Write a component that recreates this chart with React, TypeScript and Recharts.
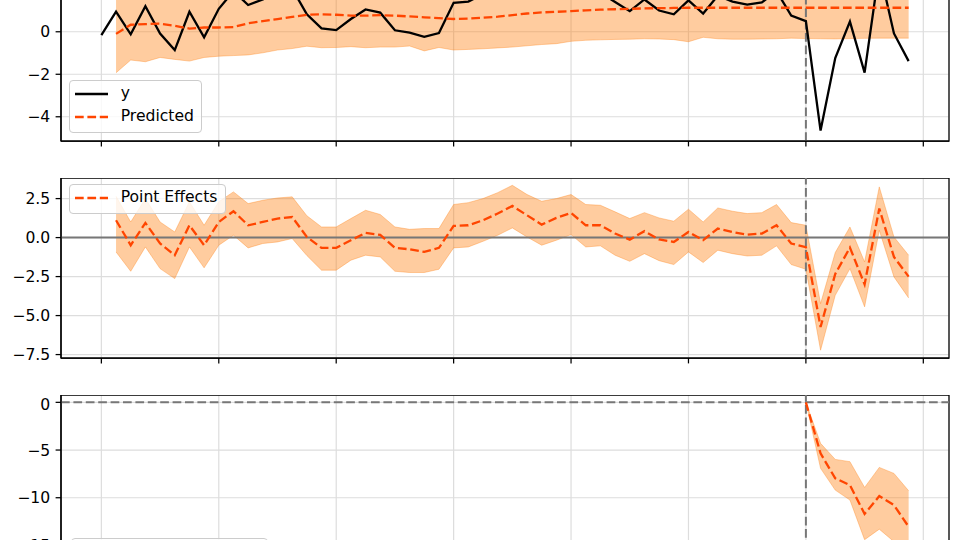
import React from 'react'
import { Area, CartesianGrid, ComposedChart, Legend, Line, ReferenceArea, ReferenceLine, XAxis, YAxis } from 'recharts'

// time index of the series (intervention starts at 48)
const timeIndex = [
  0, 1, 2, 3, 4, 5, 6, 7, 8, 9, 10, 11, 12, 13, 14, 15, 16, 17, 18, 19, 20, 21, 22, 23, 24, 25, 26, 27,
  28, 29, 30, 31, 32, 33, 34, 35, 36, 37, 38, 39, 40, 41, 42, 43, 44, 45, 46, 47, 48, 49, 50, 51, 52, 53, 54, 55
]
const xTicks = [0, 8, 16, 24, 32, 40, 48, 56]
const interventionAt = 48

const observed = [
  -0.16, 0.95, -0.12, 1.2, -0.08, -0.86, 0.94, -0.26, 1.08, 1.91, 1.26, 1.52, 1.85, 2.03, 0.82, 0.16, 0.08, 0.6,
  1.05, 0.9, 0.07, -0.04, -0.24, -0.06, 1.36, 1.42, 1.77, 2.25, 2.82, 2.3, 1.74, 2.2, 2.55, 1.81, 1.84, 1.4, 0.97,
  1.52, 1.0, 0.82, 1.48, 0.86, 1.7, 1.42, 1.28, 1.38, 1.91, 0.76, 0.5, -4.65, -1.24, 0.48, -1.92, 2.95, -0.08, -1.38
]
const predicted = [
  null, -0.1, 0.33, 0.36, 0.38, 0.28, 0.15, 0.2, 0.2, 0.22, 0.4, 0.5, 0.6, 0.7, 0.8, 0.82, 0.8, 0.76, 0.76, 0.78,
  0.76, 0.72, 0.68, 0.64, 0.6, 0.62, 0.66, 0.71, 0.78, 0.86, 0.91, 0.94, 0.97, 1.01, 1.04, 1.06, 1.08, 1.1, 1.11,
  1.12, 1.13, 1.13, 1.13, 1.13, 1.13, 1.13, 1.13, 1.13, 1.13, 1.13, 1.13, 1.13, 1.13, 1.13, 1.13, 1.13
]
const predLower = [
  null, -1.93, -1.33, -1.41, -1.21, -1.3, -1.38, -1.21, -1.15, -1.12, -1.09, -0.99, -0.86, -0.79, -0.68, -0.75,
  -0.74, -0.7, -0.75, -0.72, -0.72, -0.67, -0.9, -0.74, -0.86, -0.83, -0.8, -0.76, -0.72, -0.66, -0.6, -0.56,
  -0.45, -0.4, -0.38, -0.36, -0.35, -0.33, -0.34, -0.37, -0.47, -0.26, -0.33, -0.35, -0.35, -0.34, -0.33, -0.3,
  -0.32, -0.33, -0.34, -0.32, -0.31, -0.3, -0.3, -0.3
]
const predUpper = [
  null, 1.87, 2.04, 1.8, 1.91, 1.77, 1.54, 1.68, 1.57, 1.76, 1.92, 1.9, 2.13, 2.09, 1.97, 2.25, 2.17, 2.05, 2.18,
  2.14, 2.23, 2.2, 2.0, 1.97, 2.02, 2.02, 2.01, 2.1, 2.2, 2.26, 2.23, 2.37, 2.36, 2.41, 2.37, 2.53, 2.49, 2.55,
  2.48, 2.55, 2.4, 2.46, 2.51, 2.45, 2.46, 2.51, 2.44, 2.49, 2.53, 2.57, 2.46, 2.47, 2.52, 2.48, 2.44, 2.49
]

const pointEffect = [
  null, 1.11, -0.49, 0.94, -0.38, -1.13, 0.79, -0.49, 1.0, 1.69, 0.79, 1.0, 1.22, 1.32, 0.04, -0.66, -0.66, -0.17,
  0.3, 0.17, -0.66, -0.75, -0.92, -0.66, 0.75, 0.79, 1.11, 1.54, 2.03, 1.43, 0.83, 1.26, 1.58, 0.79, 0.79, 0.26,
  -0.13, 0.41, -0.12, -0.28, 0.36, -0.17, 0.58, 0.36, 0.19, 0.26, 0.79, -0.38, -0.62, -5.73, -2.33, -0.64, -3.0,
  1.86, -1.24, -2.5
]
const effectLower = [
  null, -0.92, -2.16, -0.6, -1.99, -2.63, -0.6, -1.94, -0.49, 0.15, -0.66, -0.38, -0.28, -0.06, -1.15, -2.09,
  -2.09, -1.45, -1.13, -1.24, -2.16, -2.24, -2.24, -2.03, -0.66, -0.6, -0.24, 0.15, 0.62, 0.04, -0.49, -0.17, 0.19,
  -0.6, -0.53, -1.13, -1.52, -1.03, -1.48, -1.73, -0.92, -1.6, -0.81, -1.03, -1.18, -1.13, -0.53, -1.73, -2.03,
  -7.22, -3.7, -1.99, -4.44, 0.47, -2.52, -3.87
]
const effectUpper = [
  null, 2.65, 1.0, 2.5, 1.0, 0.36, 2.3, 0.79, 2.3, 2.93, 2.18, 2.39, 2.54, 2.61, 1.4, 0.68, 0.68, 1.22, 1.75, 1.48,
  0.68, 0.53, 0.58, 0.58, 2.12, 2.24, 2.5, 2.88, 3.35, 2.76, 2.33, 2.5, 2.76, 2.12, 2.07, 1.65, 1.22, 1.6, 1.26,
  1.05, 1.82, 1.0, 1.9, 1.69, 1.54, 1.6, 2.12, 0.96, 0.79, -4.23, -0.96, 0.68, -1.56, 3.25, 0.04, -1.13
]

const cumIndex = [48, 49, 50, 51, 52, 53, 54, 55]
const cumEffect = [0, -5.35, -7.97, -8.67, -11.7, -9.83, -10.77, -13.04]
const cumLower = [0, -6.92, -9.2, -10.24, -14.4, -13.3, -14.6, -17.2]
const cumUpper = [0, -4.3, -5.98, -6.22, -8.92, -6.82, -7.45, -9.27]

const mainRows = timeIndex.map((t, i) => ({
  t,
  y: observed[i],
  pred: predicted[i],
  band: predLower[i] == null ? null : [predLower[i], predUpper[i]],
  eff: pointEffect[i],
  effBand: effectLower[i] == null ? null : [effectLower[i], effectUpper[i]]
}))

const cumRows = cumIndex.map((t, i) => ({
  t,
  cum: cumEffect[i],
  cumBand: [cumLower[i], cumUpper[i]]
}))

const FONT = '"DejaVu Sans", sans-serif'
const BLACK = '#000000'
const GRID = '#dddddd'
const BAND = '#ff7f0e'
const PRED = '#ff4500'
const GUIDE = '#777777'
const DASH = '8.7 3.7'
const X_DOMAIN: [number, number] = [-2.75, 57.75]

const minus = (v: number, digits?: number) => {
  const s = digits == null ? String(Math.abs(v)) : Math.abs(v).toFixed(digits)
  return v < 0 ? '\u2212' + s : s
}

type LegendItem = { label: string; color: string; dashed?: boolean }

function LegendBox({ items, width }: { items: LegendItem[]; width: number }) {
  return (
    <div
      style={{
        boxSizing: 'border-box',
        width,
        border: '1px solid #cccccc',
        borderRadius: 4,
        background: 'rgba(255,255,255,0.8)',
        padding: '1px 6px 3px 5px',
        fontFamily: FONT,
        fontSize: 15.6,
        lineHeight: '23.4px',
        color: '#000',
        whiteSpace: 'nowrap'
      }}
    >
      {items.map((it) => (
        <div key={it.label} style={{ display: 'flex', alignItems: 'center', height: 23.4 }}>
          <svg width={33} height={10} style={{ marginRight: 12.7, flex: 'none' }}>
            <line x1={0} y1={5} x2={33} y2={5} stroke={it.color} strokeWidth={2.3} strokeDasharray={it.dashed ? DASH : undefined} />
          </svg>
          <span>{it.label}</span>
        </div>
      ))}
    </div>
  )
}

const tickStyle = { fill: '#000', fontSize: 15.6, fontFamily: FONT }

export default function App() {
  const p1: [number, number] = [-5.14, 3.33]
  const p2: [number, number] = [-7.72, 3.82]
  const p3: [number, number] = [-18.1, 0.77]

  return (
    <div style={{ position: 'fixed', left: 0, top: 0, width: 960, height: 540, overflow: 'hidden', background: '#fff' }}>
      {/* top panel: observed vs predicted */}
      <div style={{ position: 'absolute', left: 0, top: -39.3 }}>
        <ComposedChart width={960} height={200} data={mainRows} margin={{ top: 0, right: 11, bottom: 0, left: 0 }}>
          <CartesianGrid stroke={GRID} strokeWidth={1.2} />
          <XAxis type='number' dataKey='t' domain={X_DOMAIN} ticks={xTicks} tickFormatter={() => ''} tickSize={5.4} height={20}
            axisLine={{ stroke: BLACK, strokeWidth: 1.25 }} tickLine={{ stroke: BLACK, strokeWidth: 1.25 }} allowDataOverflow />
          <YAxis type='number' domain={p1} ticks={[-4, -2, 0, 2]} tickFormatter={(v) => minus(v)} width={61} tickSize={5.4} tickMargin={5.4}
            tick={tickStyle} axisLine={{ stroke: BLACK, strokeWidth: 1.25 }} tickLine={{ stroke: BLACK, strokeWidth: 1.25 }} allowDataOverflow />
          <Area dataKey='band' type='linear' fill={BAND} fillOpacity={0.4} stroke={BAND} strokeOpacity={0.35} strokeWidth={1}
            isAnimationActive={false} dot={false} activeDot={false} />
          <ReferenceLine x={interventionAt} stroke={GUIDE} strokeWidth={2} strokeDasharray={DASH} />
          <Line dataKey='y' type='linear' stroke={BLACK} strokeWidth={2.3} dot={false} activeDot={false} isAnimationActive={false} />
          <Line dataKey='pred' type='linear' stroke={PRED} strokeWidth={2.3} strokeDasharray={DASH} dot={false} activeDot={false} isAnimationActive={false} />
          <ReferenceArea x1={X_DOMAIN[0]} x2={X_DOMAIN[1]} y1={p1[0]} y2={p1[1]} fill='none' stroke={BLACK} strokeWidth={1.25} ifOverflow='visible' />
          <Legend layout='vertical' align='center' verticalAlign='middle' wrapperStyle={{ left: 69, top: 119.3, width: 'auto', height: 'auto' }}
            content={() => <LegendBox width={133} items={[{ label: 'y', color: BLACK }, { label: 'Predicted', color: PRED, dashed: true }]} />} />
        </ComposedChart>
      </div>

      {/* middle panel: point effects */}
      <div style={{ position: 'absolute', left: 0, top: 177.7 }}>
        <ComposedChart width={960} height={200} data={mainRows} margin={{ top: 0, right: 11, bottom: 0, left: 0 }}>
          <CartesianGrid stroke={GRID} strokeWidth={1.2} />
          <XAxis type='number' dataKey='t' domain={X_DOMAIN} ticks={xTicks} tickFormatter={() => ''} tickSize={5.4} height={20}
            axisLine={{ stroke: BLACK, strokeWidth: 1.25 }} tickLine={{ stroke: BLACK, strokeWidth: 1.25 }} allowDataOverflow />
          <YAxis type='number' domain={p2} ticks={[-7.5, -5, -2.5, 0, 2.5]} tickFormatter={(v) => minus(v, 1)} width={61} tickSize={5.4} tickMargin={5.4}
            tick={tickStyle} axisLine={{ stroke: BLACK, strokeWidth: 1.25 }} tickLine={{ stroke: BLACK, strokeWidth: 1.25 }} allowDataOverflow />
          <Area dataKey='effBand' type='linear' fill={BAND} fillOpacity={0.4} stroke={BAND} strokeOpacity={0.35} strokeWidth={1}
            isAnimationActive={false} dot={false} activeDot={false} />
          <ReferenceLine y={0} stroke={GUIDE} strokeWidth={2} />
          <ReferenceLine x={interventionAt} stroke={GUIDE} strokeWidth={2} strokeDasharray={DASH} />
          <Line dataKey='eff' type='linear' stroke={PRED} strokeWidth={2.3} strokeDasharray={DASH} dot={false} activeDot={false} isAnimationActive={false} />
          <ReferenceArea x1={X_DOMAIN[0]} x2={X_DOMAIN[1]} y1={p2[0]} y2={p2[1]} fill='none' stroke={BLACK} strokeWidth={1.25} ifOverflow='visible' />
          <Legend layout='vertical' align='center' verticalAlign='middle' wrapperStyle={{ left: 69, top: 6.6, width: 'auto', height: 'auto' }}
            content={() => <LegendBox width={157} items={[{ label: 'Point Effects', color: PRED, dashed: true }]} />} />
        </ComposedChart>
      </div>

      {/* bottom panel: cumulative effect */}
      <div style={{ position: 'absolute', left: 0, top: 395 }}>
        <ComposedChart width={960} height={200} data={cumRows} margin={{ top: 0, right: 11, bottom: 0, left: 0 }}>
          <CartesianGrid stroke={GRID} strokeWidth={1.2} />
          <XAxis type='number' dataKey='t' domain={X_DOMAIN} ticks={xTicks} tickFormatter={() => ''} tickSize={5.4} height={20}
            axisLine={{ stroke: BLACK, strokeWidth: 1.25 }} tickLine={{ stroke: BLACK, strokeWidth: 1.25 }} allowDataOverflow />
          <YAxis type='number' domain={p3} ticks={[-15, -10, -5, 0]} tickFormatter={(v) => minus(v)} width={61} tickSize={5.4} tickMargin={5.4}
            tick={tickStyle} axisLine={{ stroke: BLACK, strokeWidth: 1.25 }} tickLine={{ stroke: BLACK, strokeWidth: 1.25 }} allowDataOverflow />
          <Area dataKey='cumBand' type='linear' fill={BAND} fillOpacity={0.4} stroke={BAND} strokeOpacity={0.35} strokeWidth={1}
            isAnimationActive={false} dot={false} activeDot={false} />
          <ReferenceLine y={0} stroke={GUIDE} strokeWidth={2} strokeDasharray={DASH} />
          <ReferenceLine x={interventionAt} stroke={GUIDE} strokeWidth={2} strokeDasharray={DASH} />
          <Line dataKey='cum' type='linear' stroke={PRED} strokeWidth={2.3} strokeDasharray={DASH} dot={false} activeDot={false} isAnimationActive={false} />
          <ReferenceArea x1={X_DOMAIN[0]} x2={X_DOMAIN[1]} y1={p3[0]} y2={p3[1]} fill='none' stroke={BLACK} strokeWidth={1.25} ifOverflow='visible' />
          <Legend layout='vertical' align='center' verticalAlign='middle' wrapperStyle={{ left: 70.7, top: 143.3, width: 'auto', height: 'auto' }}
            content={() => <LegendBox width={197} items={[{ label: 'Cumulative Effect', color: PRED, dashed: true }]} />} />
        </ComposedChart>
      </div>
    </div>
  )
}
